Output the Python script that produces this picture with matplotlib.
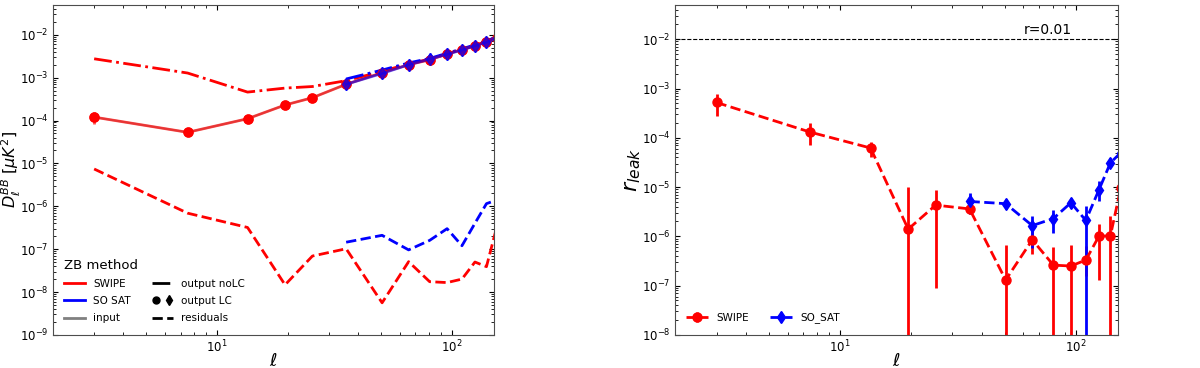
import numpy as np
import matplotlib
matplotlib.use('Agg')
import matplotlib.pyplot as plt
from matplotlib.lines import Line2D
from matplotlib.legend_handler import HandlerTuple

# multipole bin centres
ell = [3, 7.5, 13.5, 19.5, 25.5, 35.5, 50.5, 65.5, 80.5, 95.5, 110.5, 125.5, 140.5, 155.5]
ell_sat = ell[5:]

# left panel: D_ell^BB [uK^2]
swipe_lc = [1.2e-4, 5.3e-5, 1.1e-4, 2.3e-4, 3.4e-4, 7.0e-4, 1.3e-3, 2.0e-3, 2.6e-3, 3.55e-3, 4.5e-3, 5.5e-3, 6.9e-3, 8.5e-3]
swipe_lc_err = [3.5e-5, 6e-6, 1.2e-5, 2e-5, 3e-5, 6e-5, 1e-4, 1.5e-4, 2e-4, 2.5e-4, 3e-4, 4e-4, 5e-4, 6e-4]
swipe_nolc = [2.75e-3, 1.28e-3, 4.6e-4, 5.7e-4, 6.2e-4, 8.5e-4, 1.4e-3, 2.1e-3, 2.7e-3, 3.6e-3, 4.6e-3, 5.6e-3, 7.0e-3, 8.7e-3]
swipe_res = [7.4e-6, 6.9e-7, 3.2e-7, 1.47e-8, 6.9e-8, 1.02e-7, 5.6e-9, 5.1e-8, 1.74e-8, 1.66e-8, 2.0e-8, 5.0e-8, 3.9e-8, 3.3e-7]

sat_lc = [7.0e-4, 1.25e-3, 2.0e-3, 2.7e-3, 3.5e-3, 4.4e-3, 5.5e-3, 6.7e-3, 8.3e-3]
sat_lc_err = [1e-4, 1.5e-4, 2.2e-4, 3e-4, 3.5e-4, 4.5e-4, 5.5e-4, 7e-4, 8e-4]
sat_nolc = [9.3e-4, 1.5e-3, 2.2e-3, 2.8e-3, 3.7e-3, 4.7e-3, 5.8e-3, 7.2e-3, 8.9e-3]
sat_res = [1.45e-7, 2.1e-7, 9.6e-8, 1.6e-7, 3.0e-7, 1.2e-7, 4.0e-7, 1.15e-6, 1.4e-6]

input_bb = swipe_lc

# right panel: r_leak with lower / upper ends of error bars
swipe_r = [5.2e-4, 1.3e-4, 6.2e-5, 1.4e-6, 4.3e-6, 3.6e-6, 1.3e-7, 8.5e-7, 2.6e-7, 2.5e-7, 3.3e-7, 1.0e-6, 1.03e-6, 9.6e-6]
swipe_r_hi = [7.6e-4, 1.95e-4, 8.1e-5, 9.8e-6, 8.7e-6, 4.6e-6, 6.7e-7, 1.5e-6, 6.2e-7, 6.7e-7, 6.5e-7, 1.8e-6, 2.6e-6, 2e-5]
swipe_r_lo = [2.8e-4, 7e-5, 4.1e-5, 1e-9, 8.9e-8, 2.8e-6, 1e-9, 4.3e-7, 1e-9, 1e-9, 1.6e-7, 1.3e-7, 1e-9, 1e-9]

sat_r = [5.1e-6, 4.6e-6, 1.65e-6, 2.3e-6, 4.8e-6, 2.1e-6, 8.7e-6, 3.1e-5, 5.0e-5]
sat_r_hi = [7.6e-6, 5.8e-6, 2.6e-6, 3.5e-6, 6.0e-6, 4.1e-6, 1.3e-5, 3.8e-5, 6e-5]
sat_r_lo = [2.8e-6, 3.6e-6, 5.8e-7, 1.15e-6, 3.8e-6, 1e-9, 5.1e-6, 2.5e-5, 4e-5]

r_ref = 0.01

plt.rcParams['axes.unicode_minus'] = False

fig = plt.figure(figsize=(12, 3.68), dpi=100)
ax1 = fig.add_axes([0.044, 0.09, 0.3675, 0.897])
ax2 = fig.add_axes([0.5625, 0.09, 0.369, 0.897])

for ax in (ax1, ax2):
    ax.set_xscale('log')
    ax.set_yscale('log')
    ax.set_xlim(2, 151)
    ax.tick_params(which='both', direction='in', top=True, right=True, labelsize=8.5, pad=3)
    ax.tick_params(which='major', length=3.5)
    ax.tick_params(which='minor', length=2)
    for s in ax.spines.values():
        s.set_color('0.3')
    ax.set_xlabel(r'$\ell$', fontsize=13)
    ax.xaxis.set_label_coords(0.5, -0.052)

# ---- left panel
ax1.plot(ell, input_bb, color='gray', lw=1.5, alpha=0.6)
ax1.errorbar(ell, swipe_lc, yerr=swipe_lc_err, color='red', marker='o', ms=6.5, lw=2, alpha=0.7, elinewidth=2)
ax1.plot(ell, swipe_lc, 'o', color='red', ms=6.5, ls='none')
ax1.plot(ell, swipe_nolc, color='red', ls='-.', lw=2)
ax1.plot(ell, swipe_res, color='red', ls='--', lw=2)
ax1.errorbar(ell_sat, sat_lc, yerr=sat_lc_err, color='blue', marker='d', ms=6.5, lw=2, alpha=0.6, elinewidth=2)
ax1.plot(ell_sat, sat_lc, 'd', color='blue', ms=6.5, ls='none')
ax1.plot(ell_sat, sat_nolc, color='blue', ls='-.', lw=2)
ax1.plot(ell_sat, sat_res, color='blue', ls='--', lw=2)
ax1.set_ylim(1e-9, 5e-2)
ax1.set_ylabel(r'$D_\ell^{BB}\ [\mu K^2]$', fontsize=11.5, va='center')
ax1.yaxis.set_label_coords(-0.094, 0.5)

col_handles = [Line2D([], [], color='red', lw=2),
               Line2D([], [], color='blue', lw=2),
               Line2D([], [], color='gray', lw=2)]
sty_handles = [Line2D([], [], color='k', ls='-.', lw=2),
               (Line2D([], [], color='k', marker='o', ls='none', ms=5),
                Line2D([], [], color='k', marker='d', ls='none', ms=5)),
               Line2D([], [], color='k', ls='--', lw=2)]
leg = ax1.legend(col_handles + sty_handles,
                 ['SWIPE', 'SO SAT', 'input', 'output noLC', 'output LC', 'residuals'],
                 ncol=2, loc='lower left', frameon=False, title='ZB method',
                 title_fontsize=9.5, fontsize=7.5, handlelength=2.0,
                 handler_map={tuple: HandlerTuple(ndivide=None, pad=0.6)},
                 alignment='left', borderaxespad=0.7, columnspacing=2.0,
                 labelspacing=0.7)

# ---- right panel
sw_err = [np.array(swipe_r) - np.array(swipe_r_lo), np.array(swipe_r_hi) - np.array(swipe_r)]
sa_err = [np.array(sat_r) - np.array(sat_r_lo), np.array(sat_r_hi) - np.array(sat_r)]
ax2.errorbar(ell, swipe_r, yerr=sw_err, color='red', marker='o', ms=6.5, ls='--', lw=2, elinewidth=2, label='SWIPE')
ax2.errorbar(ell_sat, sat_r, yerr=sa_err, color='blue', marker='d', ms=6.5, ls='--', lw=2, elinewidth=2, label='SO_SAT')
ax2.axhline(r_ref, color='k', ls='--', lw=0.8)
ax2.text(60, 1.1e-2, 'r=0.01', fontsize=10, ha='left', va='bottom')
ax2.set_ylim(1e-8, 5e-2)
ax2.set_ylabel(r'$r_{leak}$', fontsize=16, va='center')
ax2.yaxis.set_label_coords(-0.095, 0.5)
ax2.legend(loc='lower left', ncol=2, frameon=False, fontsize=7.5, columnspacing=2.0,
           handlelength=2.1, borderaxespad=0.7)

fig.savefig('out.png', dpi=100)
